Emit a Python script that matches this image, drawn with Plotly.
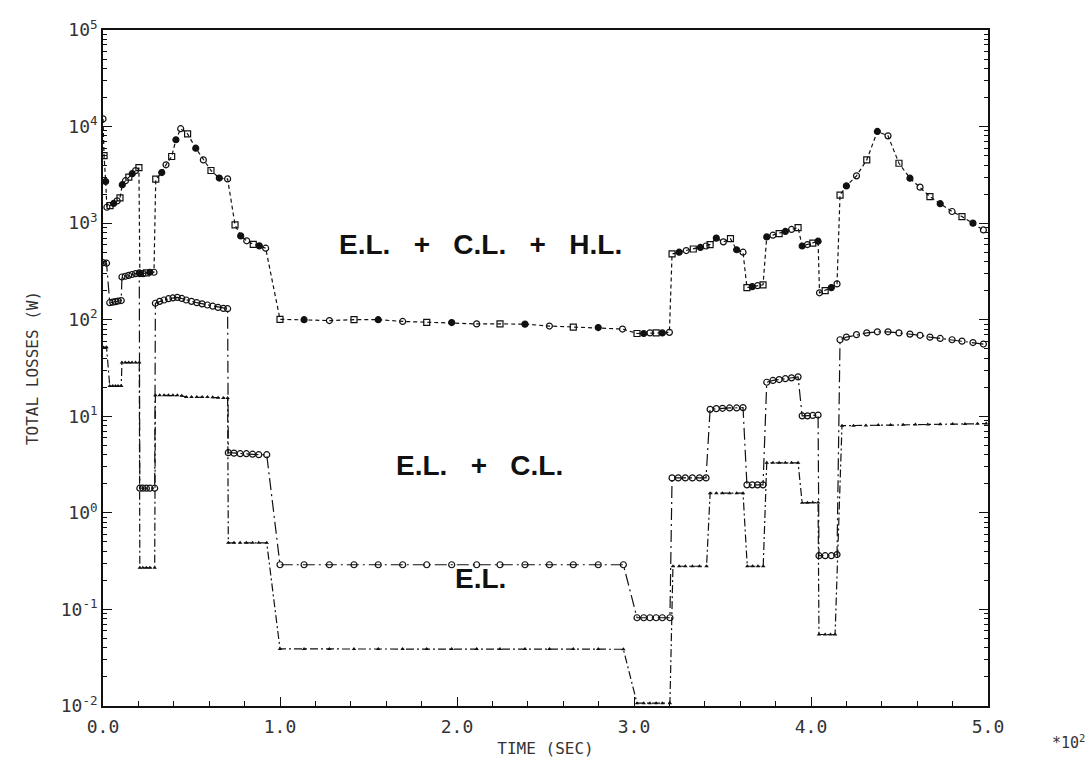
import math
import plotly.graph_objects as go

# ---------------- data ----------------
# E.L. + C.L. + H.L.
t_top = [0, 0.6, 1.5, 2.2, 4, 6, 8, 9.6,
         10.9, 12.7, 14.6, 16.5, 18.4, 20.3,
         20.8, 22.6, 24.5, 26.5, 28.8,
         29.8, 33.2, 35.6, 38.8, 41.2, 43.9, 47.8, 52.4, 56.7, 61.0, 65.7, 70.4,
         74.6, 77.8, 81.2, 84.9, 88.3, 91.9,
         100, 113.6, 127.9, 141.8, 155.5, 169.3, 182.9, 197, 211.1, 224.3, 238.4, 252.2, 265.7, 279.8, 293.5,
         301.7, 305.5, 309, 312.5, 316, 320,
         321.5, 325.5, 329.5, 333.5, 337.5, 340.7,
         343, 346.5, 350.5, 354.5, 358, 361.6,
         363.8, 366.8, 369.8, 372.9,
         375, 378.5, 382, 385.5, 389, 392.7,
         395, 398, 401, 404,
         404.8, 408, 411.5, 414.7,
         416.4, 420.0, 425.7, 431.5, 437.5, 443.5, 449.7, 455.9, 461.6, 467.2, 473.0, 479.7, 485.3, 491.5, 497.4]
v_top = [12000, 5000, 2700, 1460, 1520, 1600, 1700, 1830,
         2500, 2750, 3000, 3250, 3500, 3750,
         300, 300, 305, 310, 310,
         2850, 3340, 4020, 4900, 7300, 9500, 8400, 5970, 4520, 3510, 2930, 2870,
         960, 738, 656, 603, 582, 550,
         101, 100, 98, 100, 100, 96, 94, 93.5, 90.5, 90.5, 90, 86, 84, 83, 80,
         72, 72, 73, 73, 73, 74,
         480, 500, 520, 540, 560, 580,
         600, 700, 640, 690, 530, 500,
         215, 220, 225, 230,
         720, 750, 780, 820, 860, 900,
         580, 600, 620, 650,
         190, 200, 215, 235,
         1950, 2430, 3090, 4520, 8900, 8020, 4170, 2920, 2360, 1880, 1590, 1320, 1170, 1000, 850]

# E.L. + C.L.
t_mid = [0, 2, 3.8, 5.5, 7, 8.5, 10.3,
         10.7, 12.6, 14.5, 16.4, 18.4, 20.5,
         20.8, 22.5, 24.5, 26.5, 29.2,
         29.6, 32, 34.5, 37, 39.5, 42, 44.5, 47, 50, 53, 56, 59, 62, 65, 68, 70.4,
         70.8, 74, 77.5, 81, 84.5, 88, 92.5,
         100, 113.6, 127.9, 141.8, 155.5, 169.3, 182.9, 197, 211.1, 224.3, 238.4, 252.2, 265.7, 279.8, 294,
         301.7, 305.5, 309, 312.5, 316, 320.3,
         321.5, 325, 329, 333, 337, 340.7,
         343, 346.5, 350, 354, 358, 361.6,
         363.8, 366.8, 369.8, 372.9,
         375, 378.5, 382, 385.5, 389, 392.7,
         395, 398, 401, 404,
         404.5, 408, 411.5, 414.7,
         416.4, 420.0, 425.7, 431.5, 437.5, 443.5, 449.7, 455.9, 461.6, 467.2, 473.0, 479.7, 485.3, 491.5, 497.4]
v_mid = [390, 385, 150, 152, 154, 156, 158,
         277, 282, 288, 294, 300, 306,
         1.8, 1.8, 1.8, 1.8, 1.8,
         148, 155, 160, 165, 168, 170, 166, 160, 155, 150, 146, 142, 138, 134, 131, 130,
         4.2, 4.15, 4.1, 4.1, 4.05, 4.0, 4.0,
         0.29, 0.29, 0.29, 0.29, 0.29, 0.29, 0.29, 0.29, 0.29, 0.29, 0.29, 0.29, 0.29, 0.29, 0.29,
         0.082, 0.082, 0.082, 0.082, 0.082, 0.082,
         2.3, 2.3, 2.3, 2.3, 2.3, 2.3,
         11.8, 12.0, 12.1, 12.2, 12.2, 12.3,
         1.95, 1.95, 1.95, 1.95,
         22.5, 23.5, 24, 24.5, 25, 25.6,
         10.1, 10.1, 10.2, 10.3,
         0.36, 0.36, 0.36, 0.37,
         62, 66, 70, 73, 75, 75, 73, 71, 69, 66, 64, 62, 60, 58, 56]

# E.L.
t_bot = [0, 2, 3.8, 5.5, 7, 8.5, 10.3,
         10.7, 12.6, 14.5, 16.4, 18.4, 20.5,
         20.8, 22.5, 24.5, 26.5, 29.2,
         29.6, 32, 34.5, 37, 39.5, 42, 44.5, 47, 50, 53, 56, 59, 62, 65, 68, 70.4,
         70.8, 74, 77.5, 81, 84.5, 88, 92.5,
         100, 113.6, 127.9, 141.8, 155.5, 169.3, 182.9, 197, 211.1, 224.3, 238.4, 252.2, 265.7, 279.8, 294,
         301.7, 305.5, 309, 312.5, 316, 320.3,
         322, 325.5, 329, 333, 337, 341,
         343, 346.5, 350, 354, 358, 361.6,
         364, 367, 370, 373,
         375, 378.5, 382, 385.5, 389, 392.7,
         395, 398, 401, 404,
         404.5, 408, 411, 413.6,
         417.5, 424, 431, 438, 445, 452, 459, 466, 473, 480, 487, 494, 499]
v_bot = [52, 52, 20.6, 20.6, 20.6, 20.6, 20.6,
         36, 36, 36, 36, 36, 36,
         0.27, 0.27, 0.27, 0.27, 0.27,
         16.5, 16.5, 16.5, 16.5, 16.5, 16.5, 16.3, 15.8, 15.8, 15.8, 15.8, 15.8, 15.7, 15.6, 15.5, 15.5,
         0.49, 0.49, 0.49, 0.49, 0.49, 0.49, 0.49,
         0.039, 0.039, 0.039, 0.039, 0.039, 0.039, 0.039, 0.039, 0.039, 0.039, 0.039, 0.039, 0.039, 0.039, 0.0387,
         0.0107, 0.0107, 0.0107, 0.0107, 0.0107, 0.0107,
         0.28, 0.28, 0.28, 0.28, 0.28, 0.28,
         1.6, 1.6, 1.6, 1.6, 1.6, 1.6,
         0.28, 0.28, 0.28, 0.28,
         3.3, 3.3, 3.3, 3.3, 3.3, 3.3,
         1.27, 1.27, 1.28, 1.28,
         0.055, 0.055, 0.055, 0.055,
         8.0, 8.0, 8.05, 8.1, 8.1, 8.15, 8.2, 8.2, 8.25, 8.3, 8.3, 8.35, 8.4]

x_tick_vals = [0, 100, 200, 300, 400, 500]
x_tick_text = ["0.0", "1.0", "2.0", "3.0", "4.0", "5.0"]
y_tick_vals = [0.01, 0.1, 1, 10, 100, 1000, 10000, 100000]
y_tick_text = ["10<sup>-2</sup>", "10<sup>-1</sup>", "10<sup>0</sup>", "10<sup>1</sup>",
               "10<sup>2</sup>", "10<sup>3</sup>", "10<sup>4</sup>", "10<sup>5</sup>"]

labels = ["E.L. + C.L. + H.L.", "E.L. + C.L.", "E.L."]
label_t = [213.5, 212.5, 213]
label_v = [600, 3.1, 0.21]

# ---------------- figure ----------------
INK = "#111111"
GREY = "#333333"
sym_cycle = ["circle-open", "square-open", "circle"]
top_symbols = [sym_cycle[i % 3] for i in range(len(t_top))]

fig = go.Figure()
fig.add_trace(go.Scatter(
    x=t_top, y=v_top, mode="lines+markers",
    line=dict(color=INK, width=1.2, dash="4px,3px"),
    marker=dict(symbol=top_symbols, size=6, color=INK, line=dict(color=INK, width=1.2)),
    showlegend=False))
fig.add_trace(go.Scatter(
    x=t_mid, y=v_mid, mode="lines+markers",
    line=dict(color=INK, width=1.2, dash="12px,4px,2px,4px"),
    marker=dict(symbol="circle-open", size=6, color=INK, line=dict(color=INK, width=1.2)),
    showlegend=False))
fig.add_trace(go.Scatter(
    x=t_bot, y=v_bot, mode="lines+markers",
    line=dict(color=INK, width=1.2, dash="8px,3px,2px,3px"),
    marker=dict(symbol="triangle-up", size=4, color=INK),
    showlegend=False))

gap = "\u00a0\u00a0\u00a0"
for txt, lt, lv in zip(labels, label_t, label_v):
    fig.add_annotation(x=lt, y=math.log10(lv), xref="x", yref="y",
                       text="<b>" + txt.replace(" ", gap) + "</b>",
                       showarrow=False, font=dict(family="Liberation Sans", size=28, color=INK))

fig.add_annotation(xref="paper", yref="paper", x=1.0, y=0, xanchor="left", yanchor="top",
                   xshift=62, yshift=-24, text="*10<sup>2</sup>", showarrow=False,
                   font=dict(family="DejaVu Sans Mono", size=15, color=GREY))

axis_font = dict(family="DejaVu Sans Mono", size=18, color=GREY)
fig.update_xaxes(
    range=[0, 500], tickvals=x_tick_vals, ticktext=x_tick_text,
    ticks="inside", ticklen=9, tickwidth=1, tickcolor=INK,
    minor=dict(ticks="inside", ticklen=5, dtick=20, tickcolor=INK),
    showline=True, linecolor=INK, linewidth=1.5, mirror=True,
    showgrid=False, zeroline=False, tickfont=axis_font, ticklabelstandoff=4,
    automargin=False,
    title=dict(text="TIME (SEC)", font=dict(family="DejaVu Sans Mono", size=16, color=GREY), standoff=6))
fig.update_yaxes(
    type="log", range=[-2, 5], tickvals=y_tick_vals, ticktext=y_tick_text,
    ticks="inside", ticklen=9, tickwidth=1, tickcolor=INK,
    minor=dict(ticks="inside", ticklen=4, dtick="D1", tickcolor=INK),
    showline=True, linecolor=INK, linewidth=1.5, mirror="ticks",
    showgrid=False, zeroline=False, tickfont=axis_font,
    automargin=False,
    title=dict(text="TOTAL LOSSES (W)", font=dict(family="DejaVu Sans Mono", size=16, color=GREY), standoff=18))

fig.update_layout(
    width=1090, height=764,
    margin=dict(l=103, r=102, t=30, b=58),
    plot_bgcolor="white", paper_bgcolor="white",
)

fig.write_html("out.html")
